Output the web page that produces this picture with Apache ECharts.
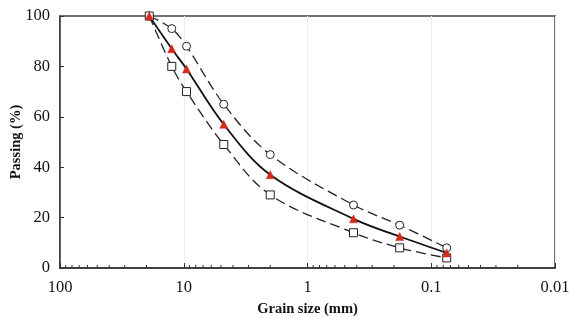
<!DOCTYPE html>
<html>
<head>
<meta charset="utf-8">
<script src="https://cdn.jsdelivr.net/npm/echarts@6/dist/echarts.min.js"></script>
<style>html,body{margin:0;padding:0;background:#fff;}#c{width:580px;height:325px;}</style>
</head>
<body>
<div id="c"></div>
<script>
const sieveSizes = [19, 12.5, 9.5, 4.75, 2, 0.425, 0.18, 0.075];
const upperLimit = [100, 95, 88, 65, 45, 25, 17, 8];
const gradation = [100, 87, 79, 57, 37, 19.5, 12.5, 6];
const lowerLimit = [100, 80, 70, 49, 29, 14, 8, 4];
const minorTickValues = [];
[0.01, 0.1, 1, 10].forEach(d => { for (let m = 2; m <= 9; m++) minorTickValues.push(+(m * d).toPrecision(3)); });

const font = 'Liberation Serif';
const pair = arr => sieveSizes.map((s, i) => [s, arr[i]]);

const chart = echarts.init(document.getElementById('c'));
chart.setOption({
  animation: false,
  grid: { left: 60, right: 25, top: 16, bottom: 57, show: true, borderColor: '#444', borderWidth: 1.5,
    containLabel: false, outerBoundsMode: 'none' },
  xAxis: {
    type: 'log', logBase: 10, min: 0.01, max: 100, inverse: true,
    name: 'Grain size (mm)', nameLocation: 'middle', nameGap: 34, nameMoveOverlap: false,
    nameTextStyle: { fontFamily: font, fontWeight: 'bold', fontSize: 14.5, color: '#111' },
    axisLine: { lineStyle: { color: '#333', width: 1.5 } },
    axisTick: { inside: true, length: 5, lineStyle: { color: '#333' } },
    axisLabel: { fontFamily: font, fontSize: 16.5, color: '#111', margin: 11,
      formatter: v => String(+v.toPrecision(3)) },
    splitLine: { show: true, lineStyle: { color: '#eee', width: 1 } }
  },
  yAxis: {
    type: 'value', min: 0, max: 100, interval: 20,
    name: 'Passing (%)', nameLocation: 'middle', nameGap: 36, nameMoveOverlap: false,
    nameTextStyle: { fontFamily: font, fontWeight: 'bold', fontSize: 14.5, color: '#111' },
    axisLine: { show: true, lineStyle: { color: '#333', width: 1.5 } },
    axisTick: { show: true, inside: true, length: 4, lineStyle: { color: '#333' } },
    axisLabel: { fontFamily: font, fontSize: 16.5, color: '#111', margin: 10 },
    splitLine: { show: false }
  },
  series: [
    {
      type: 'custom', silent: true, z: 1,
      data: minorTickValues.map(v => [v, 0]),
      renderItem: (params, api) => {
        const p = api.coord([api.value(0), 0]);
        return { type: 'line', shape: { x1: p[0], y1: p[1], x2: p[0], y2: p[1] - 3 },
          style: { stroke: '#333', lineWidth: 1 } };
      }
    },
    {
      name: 'Upper', type: 'line', smooth: 0.35, data: pair(upperLimit),
      symbol: 'circle', symbolSize: 8,
      itemStyle: { color: '#fff', borderColor: '#222', borderWidth: 1 },
      lineStyle: { color: '#222', width: 1.3, type: [10, 5] }
    },
    {
      name: 'Lower', type: 'line', smooth: 0.35, data: pair(lowerLimit),
      symbol: 'rect', symbolSize: 8,
      itemStyle: { color: '#fff', borderColor: '#222', borderWidth: 1 },
      lineStyle: { color: '#222', width: 1.3, type: [10, 5] }
    },
    {
      name: 'Gradation', type: 'line', smooth: 0.35, data: pair(gradation),
      symbol: 'triangle', symbolSize: 8,
      itemStyle: { color: '#d42a1c', borderColor: '#d42a1c', borderWidth: 0.5 },
      lineStyle: { color: '#111', width: 1.8 }, z: 3
    }
  ]
});
</script>
</body>
</html>
